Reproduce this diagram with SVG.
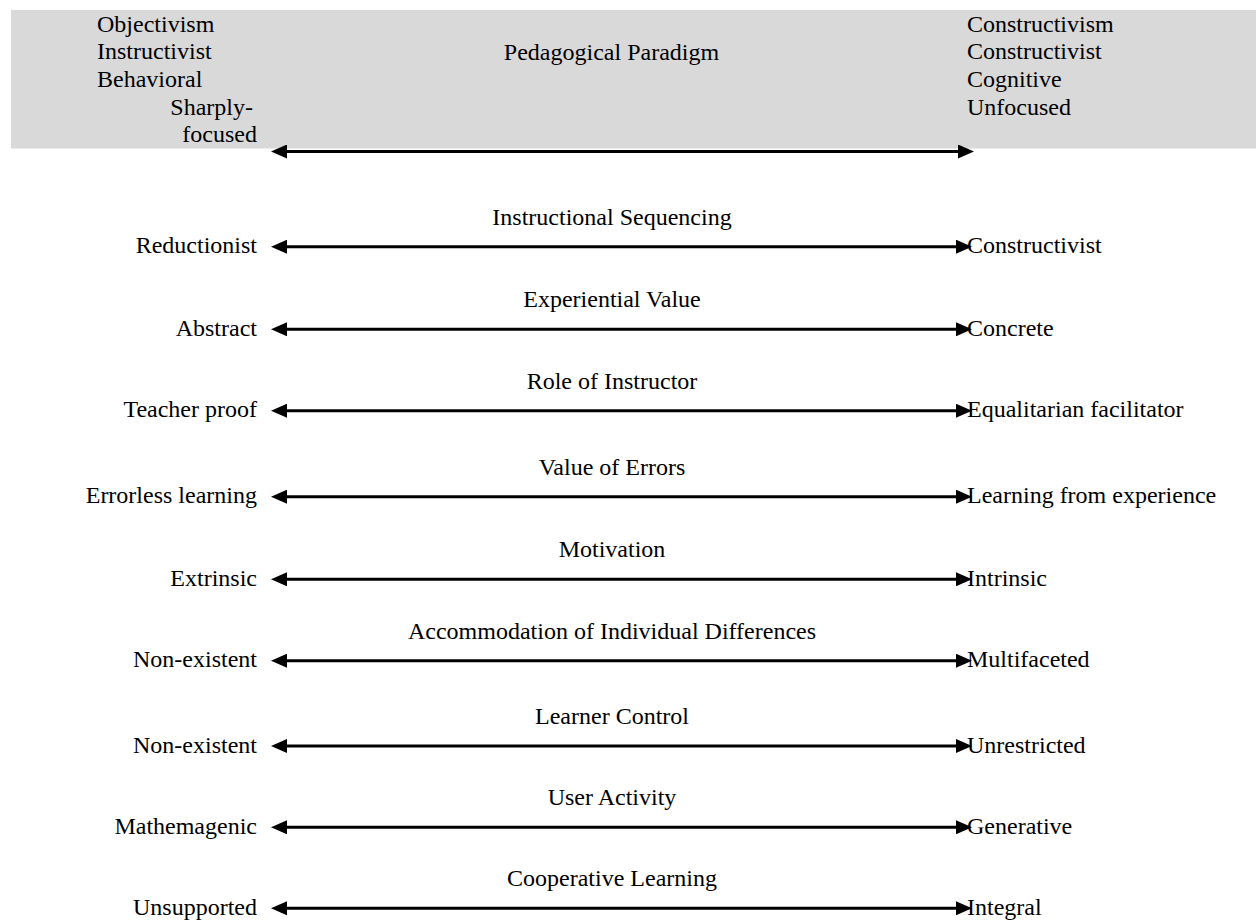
<svg xmlns="http://www.w3.org/2000/svg" width="1256" height="922" viewBox="0 0 1256 922">
  <style>
    text { font-family: "Liberation Serif", "Times New Roman", serif; font-size: 24px; fill: #000; }
    .title { text-anchor: middle; }
    .left { text-anchor: end; }
    .right { text-anchor: start; }
    .axis { stroke: #000; stroke-width: 3; fill: none; marker-start: url(#head); marker-end: url(#head); }
  </style>
  <defs>
    <marker id="head" markerUnits="userSpaceOnUse" markerWidth="16" markerHeight="14" refX="7" refY="7" orient="auto-start-reverse" viewBox="0 0 16 14">
      <path d="M0,0 L16,7 L0,14 z" fill="#000"/>
    </marker>
  </defs>

  <rect width="1256" height="922" fill="#fff"/>

  <!-- paradigm header band -->
  <g id="header">
    <rect x="11" y="10" width="1245" height="138.5" fill="#d9d9d9"/>
    <text x="97" y="31.7">Objectivism</text>
    <text x="97" y="59.3">Instructivist</text>
    <text x="97" y="87">Behavioral</text>
    <text class="left" x="253" y="114.7">Sharply-</text>
    <text class="left" x="257" y="142.3">focused</text>
    <text class="title" x="611.5" y="60">Pedagogical Paradigm</text>
    <text x="967" y="31.7">Constructivism</text>
    <text x="967" y="59.3">Constructivist</text>
    <text x="967" y="87">Cognitive</text>
    <text x="967" y="114.7">Unfocused</text>
  </g>

  <!-- dimension rows: title above, pole labels at each end -->
  <g id="row-sequencing">
    <text class="title" x="612" y="224.7">Instructional Sequencing</text>
    <text class="left" x="257" y="253.2">Reductionist</text>
    <text class="right" x="967" y="253.2">Constructivist</text>
  </g>
  <g id="row-experiential">
    <text class="title" x="612" y="307.3">Experiential Value</text>
    <text class="left" x="257" y="335.8">Abstract</text>
    <text class="right" x="967" y="335.8">Concrete</text>
  </g>
  <g id="row-instructor">
    <text class="title" x="612" y="388.7">Role of Instructor</text>
    <text class="left" x="257" y="417.2">Teacher proof</text>
    <text class="right" x="967" y="417.2">Equalitarian facilitator</text>
  </g>
  <g id="row-errors">
    <text class="title" x="612" y="474.7">Value of Errors</text>
    <text class="left" x="257" y="503.2">Errorless learning</text>
    <text class="right" x="967" y="503.2">Learning from experience</text>
  </g>
  <g id="row-motivation">
    <text class="title" x="612" y="557.3">Motivation</text>
    <text class="left" x="257" y="585.8">Extrinsic</text>
    <text class="right" x="967" y="585.8">Intrinsic</text>
  </g>
  <g id="row-accommodation">
    <text class="title" x="612" y="638.7">Accommodation of Individual Differences</text>
    <text class="left" x="257" y="667.2">Non-existent</text>
    <text class="right" x="967" y="667.2">Multifaceted</text>
  </g>
  <g id="row-control">
    <text class="title" x="612" y="724">Learner Control</text>
    <text class="left" x="257" y="752.5">Non-existent</text>
    <text class="right" x="967" y="752.5">Unrestricted</text>
  </g>
  <g id="row-activity">
    <text class="title" x="612" y="805.3">User Activity</text>
    <text class="left" x="257" y="833.8">Mathemagenic</text>
    <text class="right" x="967" y="833.8">Generative</text>
  </g>
  <g id="row-cooperative">
    <text class="title" x="612" y="886.3">Cooperative Learning</text>
    <text class="left" x="257" y="914.8">Unsupported</text>
    <text class="right" x="967" y="914.8">Integral</text>
  </g>

  <!-- double-headed axes -->
  <g id="connectors">
    <line class="axis" x1="280" y1="151.5" x2="965" y2="151.5"/>
    <line class="axis" x1="280" y1="246.7" x2="963" y2="246.7"/>
    <line class="axis" x1="280" y1="329.3" x2="963" y2="329.3"/>
    <line class="axis" x1="280" y1="410.7" x2="963" y2="410.7"/>
    <line class="axis" x1="280" y1="496.7" x2="963" y2="496.7"/>
    <line class="axis" x1="280" y1="579.3" x2="963" y2="579.3"/>
    <line class="axis" x1="280" y1="660.7" x2="963" y2="660.7"/>
    <line class="axis" x1="280" y1="746" x2="963" y2="746"/>
    <line class="axis" x1="280" y1="827.3" x2="963" y2="827.3"/>
    <line class="axis" x1="280" y1="908.3" x2="963" y2="908.3"/>
  </g>
</svg>
